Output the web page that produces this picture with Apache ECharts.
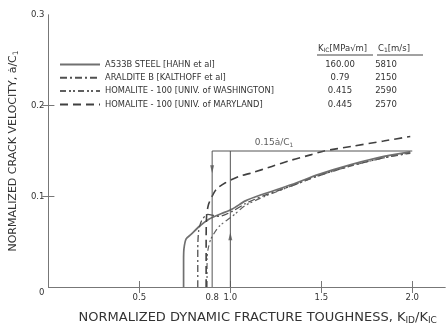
<!DOCTYPE html>
<html>
<head>
<meta charset="utf-8">
<script src="https://cdn.jsdelivr.net/npm/echarts@6/dist/echarts.min.js"></script>
<style>html,body{margin:0;padding:0;background:#fff;}#c{width:446px;height:330px;}</style>
</head>
<body>
<div id="c"></div>
<script>
// ---- data ----
const seriesNames = ['A533B STEEL [HAHN et al]', 'ARALDITE B [KALTHOFF et al]', 'HOMALITE - 100 [UNIV. of WASHINGTON]', 'HOMALITE - 100 [UNIV. of MARYLAND]'];
const kicValues = ['160.00', '0.79', '0.415', '0.445'];
const c1Values = ['5810', '2150', '2590', '2570'];
const steel = [[0.743,0],[0.743,0.029],[0.745,0.042],[0.757,0.053],[0.784,0.058],[0.830,0.067],[0.884,0.075],[0.939,0.080],[1.011,0.086],[1.083,0.095],[1.174,0.102],[1.337,0.113],[1.482,0.124],[1.663,0.135],[1.844,0.144],[1.989,0.149]];
const araldite = [[0.821,0],[0.821,0.042],[0.826,0.062],[0.842,0.073],[0.875,0.080],[0.939,0.078],[1.011,0.0835],[1.083,0.092],[1.174,0.100],[1.337,0.1115],[1.482,0.1225],[1.663,0.1335],[1.844,0.1425],[1.989,0.1475]];
const washington = [[0.872,0],[0.872,0.030],[0.878,0.042],[0.893,0.053],[0.939,0.067],[1.011,0.078],[1.083,0.090],[1.190,0.100],[1.337,0.1115],[1.482,0.1225],[1.663,0.1335],[1.844,0.1425],[1.989,0.148]];
const maryland = [[0.867,0],[0.867,0.053],[0.870,0.080],[0.880,0.091],[0.897,0.099],[0.924,0.108],[0.973,0.115],[1.047,0.122],[1.120,0.126],[1.228,0.133],[1.337,0.140],[1.446,0.146],[1.516,0.150],[1.663,0.155],[1.842,0.161],[1.989,0.166]];
const boxLeft = [[0.9,0],[0.9,0.15],[2.0,0.15]];
const boxRight = [[1.0,0],[1.0,0.15]];
const arrowsDown = [[0.9,0.13]];
const arrowsUp = [[1.0,0.056]];
const boxLabelPos = [[1.24,0.15]];
const xTickValues = [0.5, 1.0, 1.5, 2.0];
const xLabelValues = [0.5, 0.9, 1.0, 1.5, 2.0];
const xLabelTexts = ['0.5', '0.8', '1.0', '1.5', '2.0'];
const yTickValues = [0.1, 0.2];
const yLabelValues = [0, 0.1, 0.2, 0.3];
const yLabelTexts = ['0', '0.1', '0.2', '0.3'];

const FONT = 'DejaVu Sans';
const TXT = '#333';
const AX = '#777';
const chart = echarts.init(document.getElementById('c'));

const lineDefs = [
  {data: steel, color: '#707070', width: 1.7, type: 'solid'},
  {data: araldite, color: '#505050', width: 1.3, type: [7,3,2,3]},
  {data: washington, color: '#606060', width: 1.2, type: [6,3,2,2,2,3]},
  {data: maryland, color: '#404040', width: 1.6, type: [8,5]}
];

const series = lineDefs.map((d, i) => ({
  name: seriesNames[i], type: 'line', data: d.data, showSymbol: false, symbol: 'none',
  smooth: 0.25, silent: true, animation: false,
  lineStyle: {color: d.color, width: d.width, type: d.type}, itemStyle: {color: d.color}
}));
series.push(
  {type: 'line', data: boxLeft, symbol: 'none', lineStyle: {color: '#555', width: 1}, silent: true, animation: false},
  {type: 'line', data: boxRight, symbol: 'none', lineStyle: {color: '#555', width: 1}, silent: true, animation: false},
  {type: 'scatter', data: arrowsDown, symbol: 'triangle', symbolRotate: 180, symbolSize: [4,8], itemStyle: {color: '#555'}, silent: true, animation: false},
  {type: 'scatter', data: arrowsUp, symbol: 'triangle', symbolSize: [4,8], itemStyle: {color: '#555'}, silent: true, animation: false},
  {type: 'scatter', data: boxLabelPos, symbolSize: 0, silent: true, animation: false,
   label: {show: true, position: 'top', distance: 3, formatter: '0.15ȧ/C{s|1}', color: TXT, fontFamily: FONT, fontSize: 9,
     rich: {s: {fontSize: 6, fontFamily: FONT, color: TXT, verticalAlign: 'bottom', padding: [4,0,0,0]}}}}
);

chart.setOption({
  backgroundColor: '#fff',
  animation: false,
  grid: {left: 44, right: 1, top: 15, bottom: 42},
  legend: {
    data: seriesNames, orient: 'vertical', left: 54, top: 55, itemWidth: 40, itemHeight: 10, itemGap: 4.3,
    selectedMode: false, itemStyle: {opacity: 0},
    formatter: name => {
      const i = seriesNames.indexOf(name);
      return '{a|' + name + '}{b|' + kicValues[i] + '}{c|' + c1Values[i] + '}';
    },
    textStyle: {color: TXT, fontFamily: FONT, fontSize: 8,
      rich: {a: {width: 210, fontSize: 8.3, fontFamily: FONT, color: TXT},
             b: {width: 50, align: 'center', fontSize: 8.5, fontFamily: FONT, color: TXT},
             c: {width: 42, align: 'center', fontSize: 8.5, fontFamily: FONT, color: TXT}}}
  },
  graphic: [
    {type: 'text', left: 318, top: 44, style: {text: 'K{s|IC}[MPa√m]', fill: TXT, font: '8.5px ' + FONT,
      rich: {s: {fontSize: 6, fontFamily: FONT, fill: TXT, padding: [4,0,0,0]}}}},
    {type: 'text', left: 378, top: 44, style: {text: 'C{s|1}[m/s]', fill: TXT, font: '8.5px ' + FONT,
      rich: {s: {fontSize: 6, fontFamily: FONT, fill: TXT, padding: [4,0,0,0]}}}},
    {type: 'line', shape: {x1: 317, y1: 55, x2: 373, y2: 55}, style: {stroke: '#444', lineWidth: 1}},
    {type: 'line', shape: {x1: 377, y1: 55, x2: 423, y2: 55}, style: {stroke: '#444', lineWidth: 1}}
  ],
  xAxis: [
    {type: 'value', position: 'bottom', min: 0, max: 2.18, interval: 0.5,
     name: 'NORMALIZED DYNAMIC FRACTURE TOUGHNESS, K{s|ID}/K{s|IC}', nameLocation: 'middle', nameGap: 23,
     nameTextStyle: {color: TXT, fontFamily: FONT, fontSize: 13, padding: [0,0,0,22],
       rich: {s: {fontSize: 9, fontFamily: FONT, color: TXT, padding: [6,0,0,0]}}},
     axisLine: {show: true, lineStyle: {color: AX, width: 1}},
     axisTick: {show: true, inside: true, length: 6, customValues: xTickValues, lineStyle: {color: AX}},
     axisLabel: {show: true, customValues: xLabelValues, margin: 6, color: TXT, fontFamily: FONT, fontSize: 8.5,
       formatter: v => { const i = xLabelValues.findIndex(x => Math.abs(x - v) < 1e-6); return i >= 0 ? xLabelTexts[i] : ''; }},
     splitLine: {show: false}},
    {type: 'value', position: 'top', min: 0, max: 2.18, interval: 0.5,
     axisLine: {show: true, lineStyle: {color: AX, width: 1}},
     axisTick: {show: true, inside: true, length: 6, customValues: xTickValues, lineStyle: {color: AX}},
     axisLabel: {show: false}, splitLine: {show: false}}
  ],
  yAxis: [
    {type: 'value', position: 'left', min: 0, max: 0.3, interval: 0.1,
     name: 'NORMALIZED CRACK VELOCITY, ȧ/C{s|1}', nameLocation: 'middle', nameGap: 25, nameRotate: 90,
     nameTextStyle: {color: TXT, fontFamily: FONT, fontSize: 11,
       rich: {s: {fontSize: 7.5, fontFamily: FONT, color: TXT, padding: [5,0,0,0]}}},
     axisLine: {show: true, lineStyle: {color: AX, width: 1}},
     axisTick: {show: true, inside: true, length: 6, customValues: yTickValues, lineStyle: {color: AX}},
     axisLabel: {show: true, customValues: yLabelValues, margin: 4, color: TXT, fontFamily: FONT, fontSize: 8.5,
       formatter: v => { const i = yLabelValues.findIndex(x => Math.abs(x - v) < 1e-6); return i === 0 ? '{z|0}' : (i > 0 ? yLabelTexts[i] : ''); },
       rich: {z: {fontSize: 8.5, fontFamily: FONT, color: TXT, padding: [11,0,0,0]}}},
     splitLine: {show: false}},
    {type: 'value', position: 'right', min: 0, max: 0.3, interval: 0.1,
     axisLine: {show: true, lineStyle: {color: AX, width: 1}},
     axisTick: {show: true, inside: true, length: 6, customValues: yTickValues, lineStyle: {color: AX}},
     axisLabel: {show: false}, splitLine: {show: false}}
  ],
  series: series
});
</script>
</body>
</html>
